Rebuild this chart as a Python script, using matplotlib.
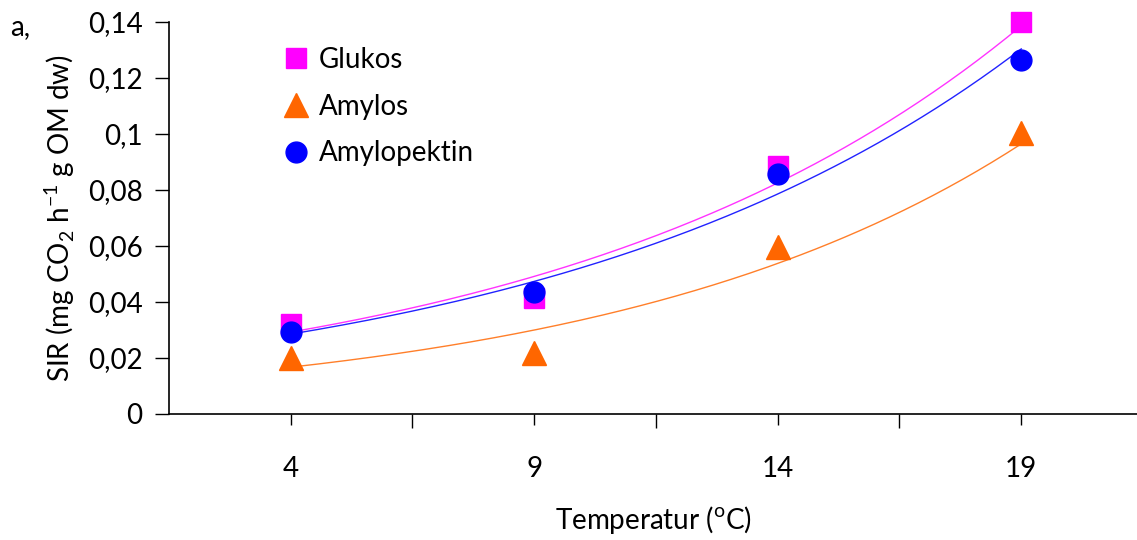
import numpy as np
import matplotlib.pyplot as plt
from matplotlib.ticker import FuncFormatter

plt.rcParams['font.family'] = ['Lato', 'DejaVu Sans']

temperatur = ['4', '9', '14', '19']
glukos = [0.032, 0.0415, 0.0885, 0.140]
amylos = [0.020, 0.0218, 0.0595, 0.1003]
amylopektin = [0.0293, 0.0436, 0.0857, 0.1265]

serier = [
    ('Glukos', glukos, 's', '#FF00FF', '#FF33FF', 14),
    ('Amylos', amylos, '^', '#FF6600', '#FF7F2A', 17),
    ('Amylopektin', amylopektin, 'o', '#0000FF', '#2222FF', 15),
]

x = np.arange(1, len(temperatur) + 1)

fig = plt.figure(figsize=(11.37, 5.4), dpi=100)
ax = fig.add_axes([169 / 1137, 126 / 540, (1143 - 169) / 1137, 392 / 540])

xs = np.linspace(1, 4, 200)
for namn, y, mark, farg, linjefarg, ms in serier:
    # exponentiell trendlinje, anpassad på log(y)
    b, ln_a = np.polyfit(x, np.log(y), 1)
    ax.plot(xs, np.exp(ln_a + b * xs), color=linjefarg, lw=1.0, zorder=2)
    ax.plot(x, y, linestyle='none', marker=mark, color=farg, ms=ms,
            mec=farg, label=namn, zorder=3, clip_on=False)

ax.set_xlim(0.5, 4.5)
ax.set_ylim(0, 0.14)
ax.set_yticks(np.arange(0, 0.141, 0.02))
ax.yaxis.set_major_formatter(FuncFormatter(
    lambda v, p: '0' if abs(v) < 1e-9 else f'{v:.2f}'.rstrip('0').replace('.', ',')))

ax.set_xticks([1.5, 2.5, 3.5])
ax.set_xticklabels([])
ax.set_xticks(x, minor=True)
ax.set_xticklabels(temperatur, minor=True)
ax.tick_params(axis='x', which='major', direction='out', length=10, width=1)
ax.tick_params(axis='x', which='minor', direction='out', length=8, width=1,
               pad=22, labelsize=20)
ax.tick_params(axis='y', direction='out', length=10, width=1, pad=9, labelsize=20)

for s in ['top', 'right']:
    ax.spines[s].set_visible(False)
for s in ['left', 'bottom']:
    ax.spines[s].set_linewidth(1.2)

ax.set_ylabel('SIR (mg CO$_\\mathregular{2}$ h$^\\mathregular{-1}$ g OM dw)',
              fontsize=20, labelpad=8)
fig.text(653 / 1137, 1 - 520 / 540, 'Temperatur ($^\\mathregular{o}$C)',
         fontsize=20, ha='center', va='center')
fig.text(10 / 1137, 1 - 27 / 540, 'a,', fontsize=20, ha='left', va='center')

ax.legend(loc='upper left', bbox_to_anchor=(0.105, 0.965), frameon=False,
          fontsize=20, handlelength=1.0, handletextpad=0.3, labelspacing=0.75,
          borderaxespad=0)

fig.savefig('out.png', dpi=100)
